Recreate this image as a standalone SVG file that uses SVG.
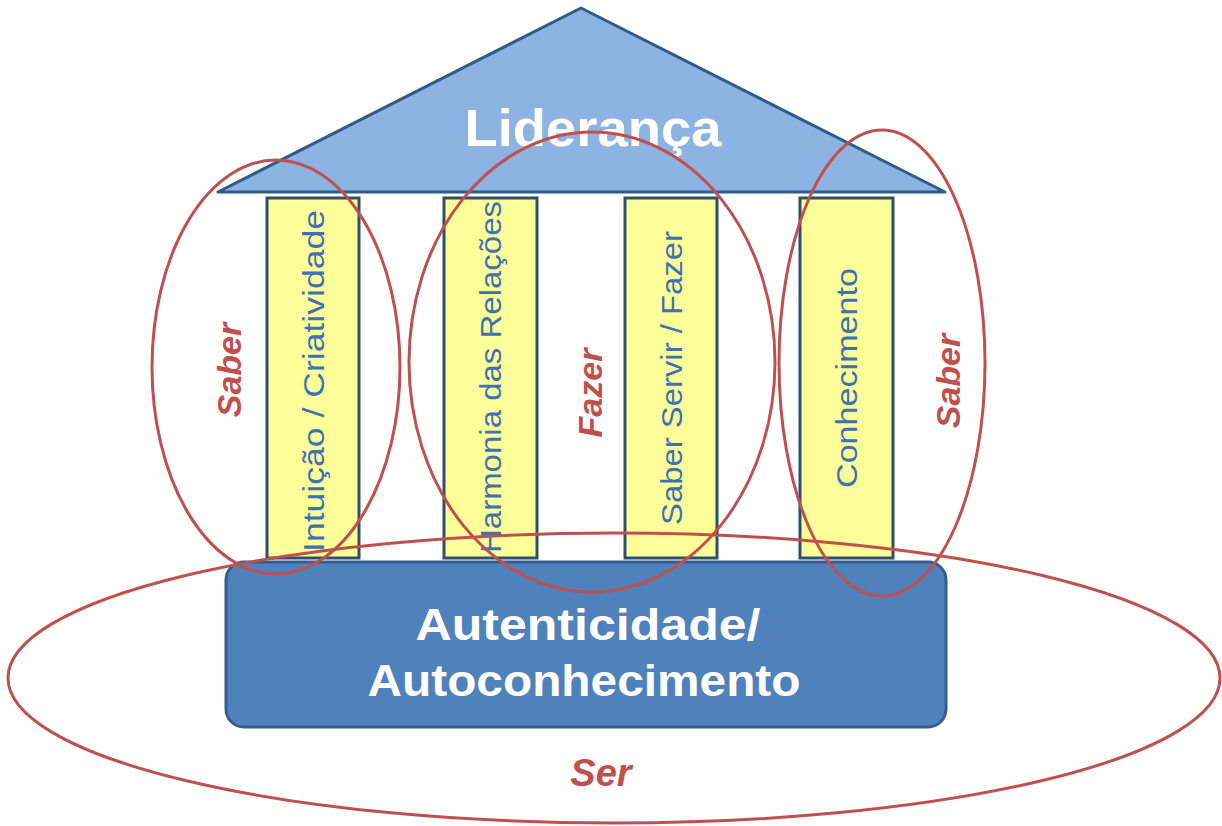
<svg xmlns="http://www.w3.org/2000/svg" width="1222" height="826" viewBox="0 0 1222 826">
<style>
.pillar{fill:#FFFF99;stroke:#2F4F6F;stroke-width:3}
.ptext{fill:#3D72B4;font-family:"Liberation Sans",Arial,sans-serif;font-size:29px;text-anchor:middle;dominant-baseline:central}
.white{fill:#FFFFFF;font-family:"Liberation Sans",Arial,sans-serif;font-weight:bold;text-anchor:middle}
.red{fill:#C0504D;font-family:"Liberation Sans",Arial,sans-serif;font-weight:bold;font-style:italic;text-anchor:middle;dominant-baseline:central}
.ring{fill:none;stroke:#C0504D;stroke-width:3}
</style>
<rect width="1222" height="826" fill="#FFFFFF"/>
<g id="roof">
<polygon points="581,8 218,192 945,192" fill="#8DB3E2" stroke="#2F5D8A" stroke-width="3" stroke-linejoin="round"/>
<text class="white" x="593" y="146" font-size="52" textLength="257" lengthAdjust="spacingAndGlyphs">Liderança</text>
</g>
<g id="pillar1">
<rect class="pillar" x="267" y="198" width="92" height="360"/>
<text class="ptext" transform="translate(314,381) rotate(-90)" textLength="342" lengthAdjust="spacingAndGlyphs">Intuição / Criatividade</text>
</g>
<g id="pillar2">
<rect class="pillar" x="444" y="198" width="93" height="360"/>
<text class="ptext" transform="translate(491,377) rotate(-90)" textLength="352" lengthAdjust="spacingAndGlyphs">Harmonia das Relações</text>
</g>
<g id="pillar3">
<rect class="pillar" x="625" y="198" width="92" height="360"/>
<text class="ptext" transform="translate(672,378) rotate(-90)" textLength="294" lengthAdjust="spacingAndGlyphs">Saber Servir / Fazer</text>
</g>
<g id="pillar4">
<rect class="pillar" x="800" y="198" width="93" height="360"/>
<text class="ptext" transform="translate(847,378) rotate(-90)" textLength="220" lengthAdjust="spacingAndGlyphs">Conhecimento</text>
</g>
<g id="base">
<rect x="226" y="562" width="720" height="165" rx="18" ry="18" fill="#4F81BD" stroke="#385D8A" stroke-width="3"/>
<text class="white" x="588" y="640" font-size="44" textLength="345" lengthAdjust="spacingAndGlyphs">Autenticidade/</text>
<text class="white" x="584" y="696" font-size="44" textLength="433" lengthAdjust="spacingAndGlyphs">Autoconhecimento</text>
</g>
<g id="labels">
<text class="red" font-size="34" transform="translate(229,370) rotate(-90)">Saber</text>
<text class="red" font-size="34" transform="translate(590,393) rotate(-90)">Fazer</text>
<text class="red" font-size="34" transform="translate(948,381) rotate(-90)">Saber</text>
<text class="red" font-size="38" x="601" y="773">Ser</text>
</g>
<g id="connectors">
<ellipse class="ring" cx="276" cy="367" rx="124" ry="207"/>
<ellipse class="ring" cx="592" cy="362" rx="183" ry="230"/>
<ellipse class="ring" cx="882" cy="363" rx="103" ry="233"/>
<ellipse class="ring" cx="614" cy="678" rx="606" ry="145"/>
</g>
</svg>
